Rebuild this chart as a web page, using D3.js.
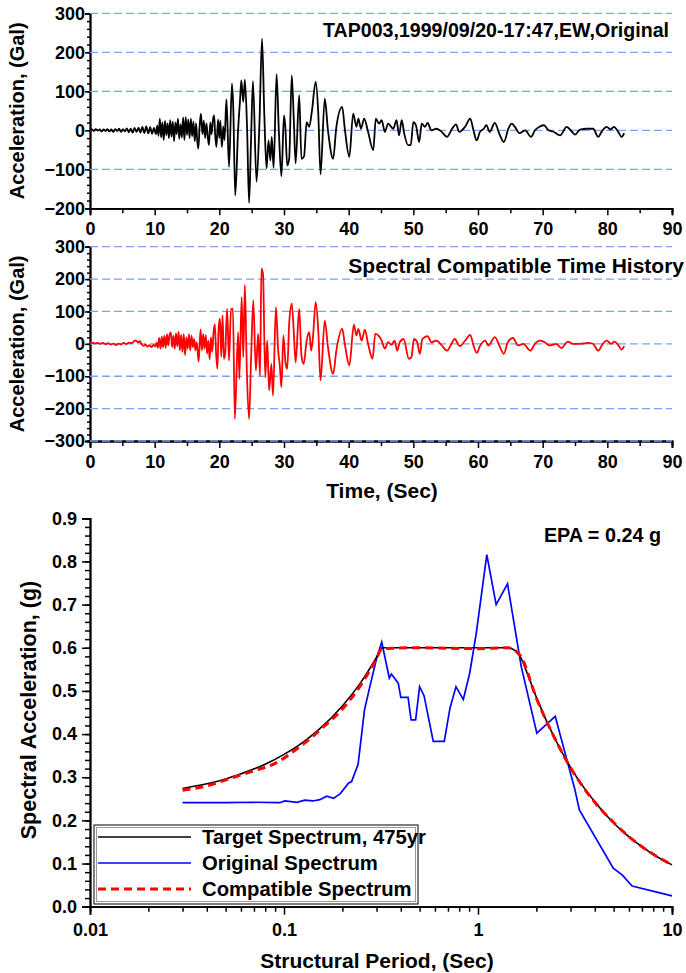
<!DOCTYPE html>
<html>
<head>
<meta charset="utf-8">
<script src="https://cdn.jsdelivr.net/npm/d3@7"></script>
<style>
  body { margin: 0; background: #fff; }
  svg text { font-family: "Liberation Sans", Arial, sans-serif; font-weight: bold; fill: #000; }
</style>
</head>
<body>
<div id="chart"></div>
<script>
const width = 686
const height = 973

// ---- data ----
// original record, [time (s), acceleration (Gal)]
const originalTrace = [
  [0,0],[0.3,2],[0.6,-2],[0.9,3],[1.2,-1],[1.5,2],[1.8,-3],[2.1,2],[2.4,-2],[2.7,3],[3.0,-3],[3.3,2],[3.6,-4],[3.9,3],
  [4.2,-2],[4.5,4],[4.8,-4],[5.1,3],[5.4,-3],[5.7,5],[6.0,-5],[6.3,4],[6.6,-6],[6.9,6],[7.2,-4],[7.5,7],[7.8,-6],[8.1,9],
  [8.4,-7],[8.7,10],[9.0,-8],[9.3,8],[9.6,-9],[9.9,6],[10.2,-10],[10.4,12],[10.6,-14],[10.8,30],[11.0,-18],[11.2,20],
  [11.4,-25],[11.6,24],[11.8,-12],[12.0,18],[12.2,-20],[12.4,26],[12.6,-16],[12.8,22],[13.0,-28],[13.2,20],[13.4,-10],
  [13.6,30],[13.8,-22],[14.0,15],[14.2,-18],[14.4,33],[14.6,-25],[14.8,34],[15.0,-12],[15.2,28],[15.4,-20],[15.6,30],
  [15.8,-15],[16.0,22],[16.2,-28],[16.4,18],[16.6,-30],[16.75,-47],[16.95,10],[17.15,43],[17.4,-10],[17.6,25],[17.8,-20],
  [18.0,18],[18.2,-15],[18.4,-38],[18.6,20],[18.8,-10],[19.0,25],[19.2,38],[19.35,-10],[19.55,-43],[19.8,28],[20.0,-20],
  [20.15,25],[20.4,-43],[20.6,10],[20.8,-25],[21.1,79],[21.5,-94],[21.95,120],[22.15,60],[22.46,-167],[22.9,0],[23.2,77],
  [23.4,128],[23.7,73],[23.95,130],[24.3,0],[24.6,-186],[24.9,-26],[25.2,126],[25.75,-132],[26.2,17],[26.6,235],[26.95,43],
  [27.3,-98],[27.6,-26],[27.9,-77],[28.1,-17],[28.4,-96],[28.85,144],[29.2,0],[29.6,-118],[30.0,38],[30.2,9],[30.5,-90],
  [30.8,-73],[31.2,141],[31.5,34],[31.8,-85],[32.35,90],[32.7,-73],[33.1,-67],[33.5,21],[33.9,9],[34.3,47],[34.9,124],
  [35.3,43],[35.65,-113],[36.3,81],[36.8,0],[37.6,-73],[38.1,9],[39.0,60],[39.4,4],[40.1,-68],[40.7,43],[41.2,9],[41.5,30],
  [41.9,4],[42.4,30],[43.0,-4],[43.8,-51],[44.2,30],[44.7,17],[45.1,26],[45.6,-4],[46.1,17],[46.9,4],[47.4,26],[47.8,-13],
  [48.2,26],[48.6,-9],[49.2,-38],[49.6,-38],[50.0,21],[50.4,13],[50.9,-30],[51.3,17],[51.8,9],[52.2,19],[52.8,0],[53.6,4],
  [54.4,-4],[55.2,-17],[56.0,4],[56.6,15],[57.1,-4],[58.0,9],[58.8,30],[59.3,0],[59.8,-26],[60.3,-4],[60.9,4],[61.3,13],
  [61.8,-4],[62.6,19],[63.3,-9],[64.0,-30],[64.7,4],[65.2,17],[65.7,9],[66.4,-7],[67.3,0],[68.2,-17],[68.8,0],[69.6,10],
  [70.2,13],[70.9,0],[71.6,-3],[72.7,-13],[73.7,9],[74.5,-3],[75.0,-11],[75.8,2],[76.8,4],[77.8,4],[78.6,-17],[79.1,-4],
  [79.9,9],[80.5,2],[81.0,9],[81.7,-4],[82.2,-17],[82.6,-7]
]

// spectrum compatible record, [time (s), acceleration (Gal)]
const compatibleTrace = [
  [0,2],[0.4,3],[0.8,1],[1.2,3],[1.6,0],[2.0,3],[2.4,-1],[2.8,2],[3.2,-2],[3.6,1],[4.0,-4],[4.4,1],[4.8,-2],[5.2,3],
  [5.6,-1],[6.0,4],[6.4,2],[6.8,8],[7.1,11],[7.4,4],[7.7,8],[8.0,-2],[8.3,-6],[8.6,-2],[8.9,-9],[9.2,-4],[9.5,-10],
  [9.8,-3],[10.1,-8],[10.3,4],[10.5,-12],[10.7,18],[10.9,-15],[11.1,22],[11.3,-10],[11.5,25],[11.7,-12],[11.9,30],
  [12.1,-5],[12.3,28],[12.5,35],[12.7,-10],[12.9,25],[13.1,-15],[13.3,32],[13.5,-8],[13.7,38],[13.9,-20],[14.1,28],
  [14.3,-25],[14.5,30],[14.7,-35],[14.9,20],[15.1,-15],[15.3,30],[15.5,-20],[15.7,25],[15.9,-10],[16.1,15],[16.3,-20],
  [16.5,5],[16.8,-55],[17.1,45],[17.3,-20],[17.5,30],[17.7,-15],[17.9,28],[18.1,-30],[18.3,10],[18.5,-48],[18.7,20],
  [18.9,-25],[19.1,35],[19.3,60],[19.5,-30],[19.7,-77],[19.9,50],[20.1,78],[20.3,-40],[20.5,88],[20.7,-46],[20.9,-30],
  [21.2,108],[21.5,-52],[21.8,108],[22.1,108],[22.4,-232],[22.9,36],[23.1,-108],[23.45,144],[23.7,-41],[23.95,182],
  [24.25,-82],[24.6,-232],[24.9,-50],[25.25,134],[25.65,-82],[26.0,31],[26.3,-98],[26.5,232],[26.75,216],[27.1,-103],
  [27.4,10],[27.7,-144],[28.05,-62],[28.3,-160],[28.75,113],[29.1,-21],[29.35,-67],[29.6,-134],[29.9,26],[30.25,-62],
  [30.5,-77],[30.8,62],[31.2,124],[31.5,41],[31.8,-57],[32.35,108],[32.7,-36],[33.05,-62],[33.5,10],[33.9,36],[34.2,-21],
  [34.5,26],[34.9,129],[35.3,41],[35.65,-113],[36.3,72],[36.8,-10],[37.6,-93],[38.1,-20],[39.0,46],[39.4,0],[40.1,-67],
  [40.8,59],[41.2,26],[41.5,46],[42.0,10],[42.5,44],[43.0,0],[43.7,-46],[44.1,31],[44.6,26],[45.1,10],[45.6,-15],[46.1,5],
  [46.6,-3],[47.1,10],[47.5,-21],[47.9,5],[48.5,15],[49.3,-46],[49.7,-41],[50.1,15],[50.6,5],[51.0,-31],[51.4,15],
  [52.2,24],[52.8,5],[53.6,10],[54.4,-5],[55.2,-21],[55.9,0],[56.4,15],[57.2,-7],[58.0,10],[58.8,28],[59.3,-5],[59.8,-28],
  [60.3,-7],[61.1,10],[61.6,-5],[62.6,21],[63.4,-10],[64.0,-31],[64.6,5],[65.4,18],[66.2,-5],[67.0,0],[68.1,-21],
  [68.8,0],[69.6,10],[70.3,5],[71.1,-5],[72.1,0],[72.9,-13],[73.9,7],[74.7,0],[75.8,0],[77.0,3],[77.8,0],[78.6,-21],
  [79.3,0],[79.9,10],[80.6,0],[81.1,7],[81.8,-7],[82.2,-18],[82.6,-7]
]

// response spectra, [period (s), Sa (g)]
const targetSpectrum = [
  [0.03,0.274],[0.04,0.285],[0.05,0.296],[0.06,0.308],[0.08,0.330],[0.1,0.353],[0.12,0.375],[0.15,0.409],[0.2,0.465],
  [0.25,0.521],[0.3,0.578],[0.32,0.600],[0.5,0.600],[1.0,0.600],[1.42,0.600],[1.55,0.594],[1.65,0.580],[1.8,0.539],
  [2.0,0.485],[2.5,0.388],[3.0,0.323],[3.5,0.277],[4.0,0.243],[5.0,0.194],[6.0,0.162],[7.0,0.139],[8.0,0.121],
  [9.0,0.108],[10.0,0.097]
]
const originalSpectrum = [
  [0.03,0.241],[0.05,0.241],[0.07,0.242],[0.095,0.241],[0.101,0.245],[0.1165,0.242],[0.128,0.247],[0.141,0.245],
  [0.153,0.248],[0.166,0.256],[0.18,0.251],[0.195,0.262],[0.215,0.286],[0.223,0.29],[0.241,0.33],[0.26,0.456],
  [0.277,0.51],[0.3,0.575],[0.319,0.613],[0.349,0.53],[0.358,0.539],[0.388,0.518],[0.40,0.485],[0.436,0.485],
  [0.452,0.433],[0.477,0.433],[0.50,0.51],[0.527,0.489],[0.588,0.383],[0.67,0.383],[0.717,0.46],[0.77,0.51],
  [0.84,0.48],[0.906,0.541],[0.98,0.634],[1.11,0.816],[1.24,0.70],[1.42,0.748],[1.67,0.557],[2.01,0.402],[2.5,0.441],
  [3.16,0.271],[3.33,0.224],[4.98,0.089],[5.55,0.073],[6.23,0.048],[10.0,0.025]
]
const compatibleSpectrum = [
  [0.03,0.270],[0.04,0.280],[0.055,0.300],[0.07,0.315],[0.09,0.332],[0.12,0.370],[0.16,0.417],[0.2,0.458],
  [0.25,0.515],[0.3,0.575],[0.32,0.598],[0.5,0.600],[1.0,0.598],[1.42,0.600],[1.65,0.582],[2.0,0.483],[2.5,0.388],
  [3.0,0.322],[4.0,0.242],[5.0,0.195],[7.0,0.139],[10.0,0.097]
]

const timeTicks = d3.range(0, 91, 10)
const topAccTicks = [-200, -100, 0, 100, 200, 300]
const midAccTicks = [-300, -200, -100, 0, 100, 200, 300]
const saTicks = d3.range(0, 0.91, 0.1)
const periodTicks = [0.01, 0.1, 1, 10]
const legendLabels = ["Target Spectrum, 475yr", "Original Spectrum", "Compatible Spectrum"]

const gridColor = "#7aa3f2"

let svg = d3.select("#chart").append("svg")
    .attr("width", width)
    .attr("height", height)

function styleAxis(g) {
  g.select(".domain").attr("stroke", "#000").attr("stroke-width", 1.8)
  g.selectAll(".tick line").attr("stroke", "#000").attr("stroke-width", 1.5)
  g.selectAll(".tick text").style("font-size", "18px")
}

// ---------- time history panels ----------
function tracePanel(trace, yDomain, yTop, yBottom, yTicks, color, title, titleX, titleY, titleSize) {
  let x = d3.scaleLinear().domain([0, 90]).range([90, 672])
  let y = d3.scaleLinear().domain(yDomain).range([yBottom, yTop])
  let g = svg.append("g")

  // minor ticks
  g.append("g").attr("transform", `translate(0,${yBottom})`)
      .call(d3.axisBottom(x).tickValues(d3.range(5, 90, 10)).tickSize(5).tickFormat(""))
      .call(styleAxis)
  g.append("g").attr("transform", `translate(90,0)`)
      .call(d3.axisLeft(y).tickValues(d3.range(yDomain[0], yDomain[1], 20)).tickSize(3).tickFormat(""))
      .call(styleAxis)

  g.append("g").attr("transform", `translate(0,${yBottom})`)
      .call(d3.axisBottom(x).tickValues(timeTicks).tickSize(7).tickPadding(7))
      .call(styleAxis)
  g.append("g").attr("transform", `translate(90,0)`)
      .call(d3.axisLeft(y).tickValues(yTicks).tickSize(5).tickPadding(0))
      .call(styleAxis)

  // dashed grid
  g.append("g").selectAll("line")
      .data(yTicks.filter(v => v > yDomain[0] || yDomain[0] === -300))
      .join("line")
      .attr("x1", 90).attr("x2", 672)
      .attr("y1", d => y(d)).attr("y2", d => y(d))
      .attr("stroke", gridColor)
      .attr("stroke-width", 1.3)
      .attr("stroke-dasharray", "8,4")

  let line = d3.line().curve(d3.curveMonotoneX).x(d => x(d[0])).y(d => y(d[1]))
  g.append("path").datum(trace)
      .attr("d", line)
      .attr("fill", "none")
      .attr("stroke", color)
      .attr("stroke-width", 1.8)
      .attr("stroke-linejoin", "round")

  g.append("text")
      .attr("x", titleX).attr("y", titleY)
      .attr("text-anchor", "end")
      .style("font-size", titleSize)
      .text(title)

  g.append("text")
      .attr("transform", `translate(24,${(yTop + yBottom) / 2}) rotate(-90)`)
      .attr("text-anchor", "middle")
      .style("font-size", "20px")
      .text("Acceleration, (Gal)")
}

tracePanel(originalTrace, [-200, 300], 13.3, 208.3, topAccTicks, "#000",
    "TAP003,1999/09/20-17:47,EW,Original", 669, 37, "19.6px")
tracePanel(compatibleTrace, [-300, 300], 246.7, 441, midAccTicks, "#ff0000",
    "Spectral Compatible Time History", 684, 273, "21px")

svg.append("text")
    .attr("x", 382).attr("y", 498)
    .attr("text-anchor", "middle")
    .style("font-size", "21px")
    .text("Time, (Sec)")

// ---------- spectrum panel ----------
let sx = d3.scaleLog().domain([0.01, 10]).range([90, 672])
let sy = d3.scaleLinear().domain([0, 0.9]).range([906.7, 518.3])
let sp = svg.append("g")

let minorPeriods = sx.ticks().filter(v => !periodTicks.some(p => Math.abs(p - v) < 1e-9))
sp.append("g").attr("transform", "translate(0,906.7)")
    .call(d3.axisBottom(sx).tickValues(minorPeriods).tickSize(5).tickFormat(""))
    .call(styleAxis)
sp.append("g").attr("transform", "translate(90,0)")
    .call(d3.axisLeft(sy).tickValues(d3.range(0.02, 0.9, 0.02)).tickSize(5).tickFormat(""))
    .call(styleAxis)
sp.append("g").attr("transform", "translate(0,906.7)")
    .call(d3.axisBottom(sx).tickValues(periodTicks).tickSize(8).tickPadding(9).tickFormat(d => String(d)))
    .call(styleAxis)
sp.append("g").attr("transform", "translate(90,0)")
    .call(d3.axisLeft(sy).tickValues(saTicks).tickSize(8).tickPadding(5).tickFormat(d3.format(".1f")))
    .call(styleAxis)

let sLine = d3.line().x(d => sx(d[0])).y(d => sy(d[1]))
sp.append("path").datum(originalSpectrum)
    .attr("d", sLine).attr("fill", "none").attr("stroke", "#0000ff").attr("stroke-width", 1.7)
sp.append("path").datum(targetSpectrum)
    .attr("d", sLine.curve(d3.curveMonotoneX)).attr("fill", "none").attr("stroke", "#000").attr("stroke-width", 1.6)
sp.append("path").datum(compatibleSpectrum)
    .attr("d", sLine.curve(d3.curveMonotoneX)).attr("fill", "none").attr("stroke", "#ff0000")
    .attr("stroke-width", 3).attr("stroke-dasharray", "8,5")

sp.append("text")
    .attr("x", 661).attr("y", 542)
    .attr("text-anchor", "end")
    .style("font-size", "19.8px")
    .text("EPA = 0.24 g")

sp.append("text")
    .attr("transform", "translate(36,710) rotate(-90)")
    .attr("text-anchor", "middle")
    .style("font-size", "21.5px")
    .text("Spectral Acceleration, (g)")

sp.append("text")
    .attr("x", 377).attr("y", 968)
    .attr("text-anchor", "middle")
    .style("font-size", "21px")
    .text("Structural Period, (Sec)")

// legend
let lg = sp.append("g")
lg.append("rect").attr("x", 94).attr("y", 825).attr("width", 324).attr("height", 79)
    .attr("fill", "#fff").attr("stroke", "#000").attr("stroke-width", 1)
lg.append("rect").attr("x", 96.5).attr("y", 827.5).attr("width", 319).attr("height", 74)
    .attr("fill", "none").attr("stroke", "#999").attr("stroke-width", 1)
let legendStyles = [
  { color: "#000", width: 1.6, dash: null },
  { color: "#0000ff", width: 1.6, dash: null },
  { color: "#ff0000", width: 3, dash: "8,5" }
]
let rows = lg.selectAll("g.row").data(legendLabels).join("g")
    .attr("class", "row")
    .attr("transform", (d, i) => `translate(0,${837 + i * 26})`)
rows.append("line")
    .attr("x1", 98).attr("x2", 191)
    .attr("stroke", (d, i) => legendStyles[i].color)
    .attr("stroke-width", (d, i) => legendStyles[i].width)
    .attr("stroke-dasharray", (d, i) => legendStyles[i].dash)
rows.append("text")
    .attr("x", 202).attr("y", 7)
    .style("font-size", "20.3px")
    .text(d => d)
</script>
</body>
</html>
